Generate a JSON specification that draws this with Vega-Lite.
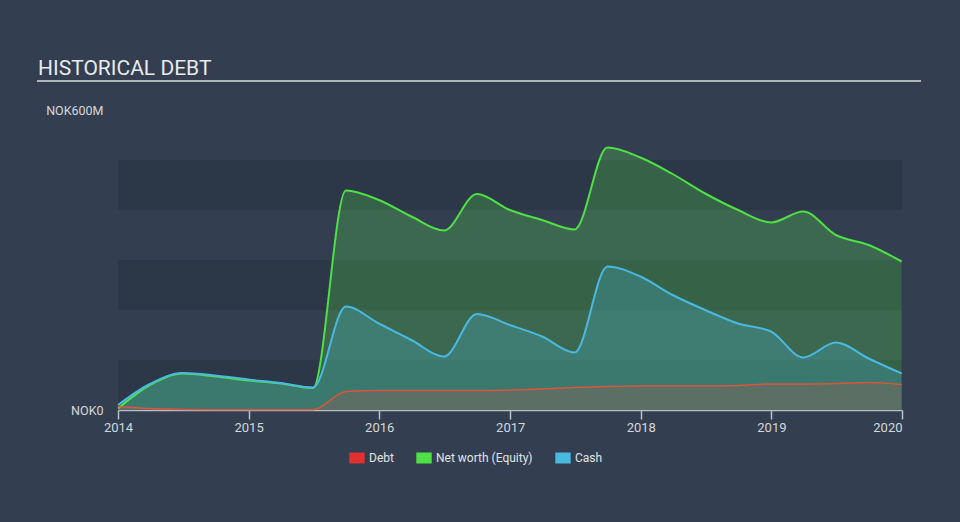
{
  "$schema": "https://vega.github.io/schema/vega-lite/v6.json",
  "width": 784,
  "height": 300,
  "autosize": {"type": "none"},
  "padding": {"left": 118, "top": 110, "right": 58, "bottom": 112},
  "background": "#333f50",
  "config": {
    "view": {"stroke": null},
    "font": "Roboto",
    "legend": {"labelFont": "Roboto"},
    "axis": {"labelFont": "Roboto"}
  },
  "title": {
    "text": "HISTORICAL DEBT",
    "anchor": "start",
    "frame": "group",
    "dx": -80,
    "offset": 1,
    "fontSize": 21,
    "fontWeight": "normal",
    "font": "Roboto",
    "color": "#e8eaed"
  },
  "datasets": {
    "bands": [
      {"lo": 0, "hi": 100},
      {"lo": 200, "hi": 300},
      {"lo": 400, "hi": 500}
    ],
    "series": [
      {"date": "2014-01-01", "debt": 7, "equity": 3, "cash": 10},
      {"date": "2014-03-31", "debt": 3, "equity": 50, "cash": 52},
      {"date": "2014-06-30", "debt": 1, "equity": 73, "cash": 74},
      {"date": "2014-09-30", "debt": 0.5, "equity": 67, "cash": 69},
      {"date": "2014-12-31", "debt": 0.5, "equity": 59, "cash": 61},
      {"date": "2015-03-31", "debt": 0.5, "equity": 53, "cash": 54},
      {"date": "2015-06-30", "debt": 0.5, "equity": 44, "cash": 45},
      {"date": "2015-09-30", "debt": 37, "equity": 439, "cash": 207},
      {"date": "2015-12-31", "debt": 39, "equity": 420, "cash": 173},
      {"date": "2016-03-31", "debt": 39, "equity": 387, "cash": 140},
      {"date": "2016-06-30", "debt": 39, "equity": 359, "cash": 107},
      {"date": "2016-09-30", "debt": 39, "equity": 432, "cash": 192},
      {"date": "2016-12-31", "debt": 40, "equity": 400, "cash": 170},
      {"date": "2017-03-31", "debt": 42, "equity": 380, "cash": 147},
      {"date": "2017-06-30", "debt": 45, "equity": 361, "cash": 115},
      {"date": "2017-09-30", "debt": 47, "equity": 525, "cash": 287},
      {"date": "2017-12-31", "debt": 48, "equity": 505, "cash": 267},
      {"date": "2018-03-31", "debt": 48, "equity": 472, "cash": 230},
      {"date": "2018-06-30", "debt": 48, "equity": 433, "cash": 200},
      {"date": "2018-09-30", "debt": 49, "equity": 400, "cash": 173},
      {"date": "2018-12-31", "debt": 52, "equity": 375, "cash": 157},
      {"date": "2019-03-31", "debt": 52, "equity": 397, "cash": 105},
      {"date": "2019-06-30", "debt": 53, "equity": 350, "cash": 135},
      {"date": "2019-09-30", "debt": 55, "equity": 330, "cash": 103},
      {"date": "2019-12-31", "debt": 51, "equity": 297, "cash": 73}
    ]
  },
  "data": {"name": "series"},
  "layer": [
    {
      "data": {"name": "bands"},
      "mark": {"type": "rect", "color": "#2c3848"},
      "encoding": {
        "y": {
          "field": "lo", "type": "quantitative",
          "scale": {"domain": [0, 600], "nice": false},
          "axis": {
            "title": null,
            "values": [0, 600],
            "labelExpr": "datum.value == 0 ? 'NOK0' : 'NOK600M'",
            "domain": false,
            "ticks": false,
            "grid": false,
            "labelColor": "#d4d7db",
            "labelFontSize": 12.5,
            "labelPadding": 15
          }
        },
        "y2": {"field": "hi"}
      }
    },
    {
      "mark": {"type": "area", "interpolate": "monotone", "color": "#54e346", "opacity": 0.25},
      "encoding": {
        "x": {
          "field": "date", "type": "temporal",
          "scale": {"domain": ["2014-01-01T00:00:00", "2020-01-01T00:00:00"]},
          "axis": {
            "title": null,
            "format": "%Y",
            "tickCount": "year",
            "grid": false,
            "domainColor": "#b8bdc3",
            "domainWidth": 1.5,
            "tickColor": "#b8bdc3",
            "tickSize": 9,
            "tickWidth": 1.5,
            "labelColor": "#d4d7db",
            "labelFontSize": 13,
            "labelPadding": 2,
            "labelFlush": false,
            "labelAlign": {"condition": {"test": "year(datum.value) >= 2020", "value": "right"}, "value": "center"}
          }
        },
        "y": {"field": "equity", "type": "quantitative"}
      }
    },
    {
      "mark": {"type": "area", "interpolate": "monotone", "color": "#4ab8e0", "opacity": 0.25},
      "encoding": {
        "x": {"field": "date", "type": "temporal"},
        "y": {"field": "cash", "type": "quantitative"}
      }
    },
    {
      "mark": {"type": "area", "interpolate": "monotone", "color": "#d0504a", "opacity": 0.22},
      "encoding": {
        "x": {"field": "date", "type": "temporal"},
        "y": {"field": "debt", "type": "quantitative"}
      }
    },
    {
      "mark": {"type": "line", "interpolate": "monotone", "strokeWidth": 2},
      "encoding": {
        "x": {"field": "date", "type": "temporal"},
        "y": {"field": "equity", "type": "quantitative"},
        "color": {
          "datum": "Net worth (Equity)",
          "scale": {"domain": ["Debt", "Net worth (Equity)", "Cash"], "range": ["#e0302f", "#4fe046", "#4ab8e0"]},
          "legend": {
            "title": null,
            "orient": "none",
            "direction": "horizontal",
            "legendX": 233,
            "legendY": 342,
            "symbolType": "M-1.4,-1H1.4V1H-1.4Z",
            "symbolSize": 121,
            "symbolStrokeWidth": 0,
            "symbolOpacity": 1,
            "labelColor": "#e0e3e6",
            "labelFontSize": 12,
            "labelOffset": 6,
            "columnPadding": 22,
            "encode": {
              "symbols": {
                "update": {
                  "fill": {"scale": "color", "field": "value"},
                  "fillOpacity": {"value": 1},
                  "strokeWidth": {"value": 0}
                }
              }
            }
          }
        }
      }
    },
    {
      "mark": {"type": "line", "interpolate": "monotone", "strokeWidth": 2},
      "encoding": {
        "x": {"field": "date", "type": "temporal"},
        "y": {"field": "cash", "type": "quantitative"},
        "color": {"datum": "Cash"}
      }
    },
    {
      "mark": {"type": "line", "interpolate": "monotone", "strokeWidth": 1.5, "stroke": "#d9573f"},
      "encoding": {
        "x": {"field": "date", "type": "temporal"},
        "y": {"field": "debt", "type": "quantitative"},
        "color": {"datum": "Debt"}
      }
    },
    {
      "mark": {"type": "rule", "color": "#b0b5ba", "strokeWidth": 2},
      "encoding": {
        "x": {"datum": {"year": 2013, "month": 5, "date": 22}, "type": "temporal"},
        "x2": {"datum": {"year": 2020, "month": 2, "date": 23}},
        "y": {"datum": 658, "type": "quantitative"}
      }
    }
  ]
}
